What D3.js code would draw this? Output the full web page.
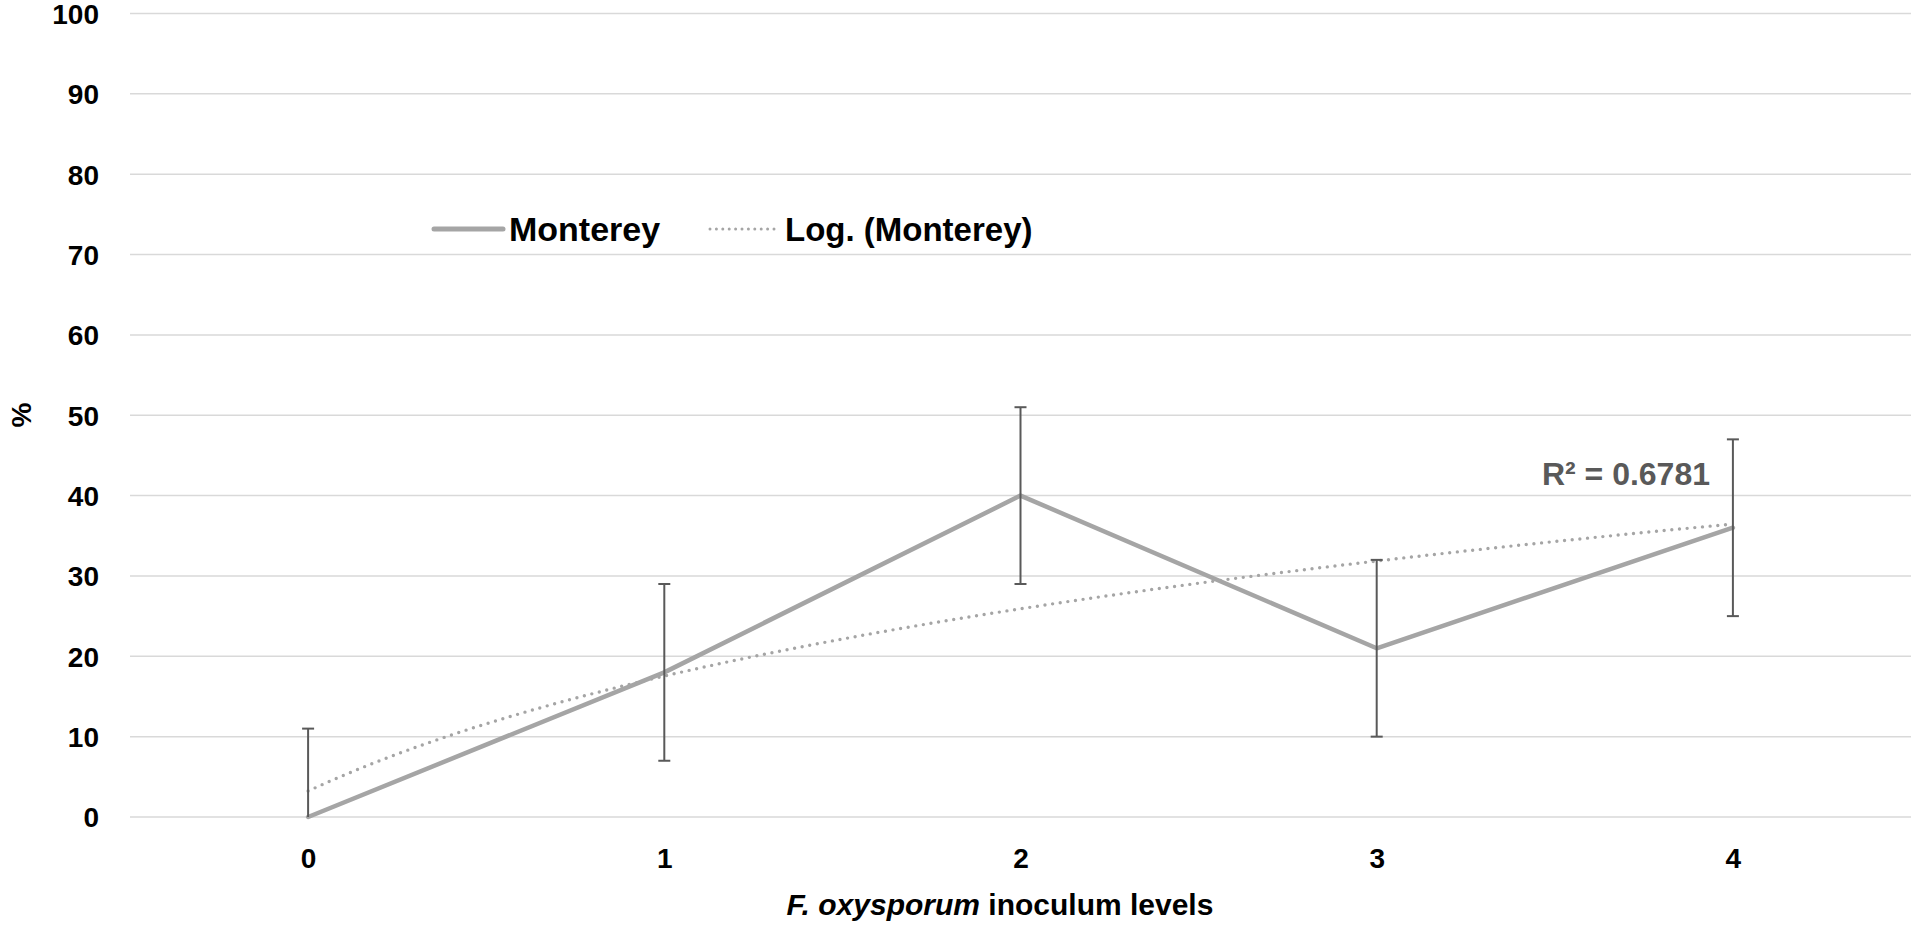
<!DOCTYPE html>
<html>
<head>
<meta charset="utf-8">
<script src="https://cdn.jsdelivr.net/npm/d3@7"></script>
<style>
  html, body { margin: 0; padding: 0; background: #fff; }
  svg { display: block; font-family: "Liberation Sans", Arial, sans-serif; font-weight: bold; }
</style>
</head>
<body>
<svg id="chart" width="1921" height="930"></svg>
<script>
// inoculum levels on the x axis
const levels = ["0", "1", "2", "3", "4"];
// Monterey mean %
const monterey = [0, 18, 40, 21, 36];
// error bar half-width (+/-)
const montereyErr = [11, 11, 11, 11, 11];
const yTicks = [0, 10, 20, 30, 40, 50, 60, 70, 80, 90, 100];

const width = 1921, height = 930;
const margin = { top: 13.5, right: 10, bottom: 113, left: 130 };

const svg = d3.select("#chart");

const x = d3.scalePoint()
  .domain(levels)
  .range([margin.left, width - margin.right])
  .padding(0.5);

// index -> position, for the fitted curve
const xi = d3.scaleLinear()
  .domain([0, levels.length - 1])
  .range([x(levels[0]), x(levels[levels.length - 1])]);

const y = d3.scaleLinear()
  .domain([0, 100])
  .range([height - margin.bottom, margin.top]);

// gridlines
svg.append("g")
  .selectAll("line")
  .data(yTicks)
  .join("line")
  .attr("x1", margin.left)
  .attr("x2", width - margin.right)
  .attr("y1", d => y(d))
  .attr("y2", d => y(d))
  .attr("stroke", "#d9d9d9")
  .attr("stroke-width", 1.5);

// y axis labels
const yAxis = g => g
  .attr("transform", `translate(${margin.left - 31},0)`)
  .call(d3.axisLeft(y).tickValues(yTicks).tickSize(0).tickPadding(0))
  .call(g => g.select(".domain").remove())
  .call(g => g.selectAll("text")
    .attr("font-family", "Liberation Sans, Arial, sans-serif")
    .attr("font-weight", "bold")
    .attr("font-size", 28)
    .attr("dy", "0.35em")
    .attr("fill", "#000"));
svg.append("g").call(yAxis);

// x axis labels
const xAxis = g => g
  .attr("transform", `translate(0,${y(0) + 31})`)
  .call(d3.axisBottom(x).tickSize(0).tickPadding(0))
  .call(g => g.select(".domain").remove())
  .call(g => g.selectAll("text")
    .attr("font-family", "Liberation Sans, Arial, sans-serif")
    .attr("font-weight", "bold")
    .attr("font-size", 28)
    .attr("fill", "#000"));
svg.append("g").call(xAxis);

// axis titles
const xTitle = svg.append("text")
  .attr("x", 1000)
  .attr("y", 915)
  .attr("text-anchor", "middle")
  .attr("font-size", 30)
  .attr("fill", "#000");
xTitle.append("tspan").attr("font-style", "italic").text("F. oxysporum");
xTitle.append("tspan").text(" inoculum levels");

svg.append("text")
  .attr("transform", "translate(31,415) rotate(-90)")
  .attr("text-anchor", "middle")
  .attr("font-size", 28)
  .attr("fill", "#000")
  .text("%");

// log trendline: least squares fit of y = a ln(n) + b, n = 1..5 (Excel style)
const lx = monterey.map((_, i) => Math.log(i + 1));
const mx = d3.mean(lx), my = d3.mean(monterey);
const sxy = d3.sum(lx, (v, i) => (v - mx) * (monterey[i] - my));
const sxx = d3.sum(lx, v => (v - mx) * (v - mx));
const syy = d3.sum(monterey, v => (v - my) * (v - my));
const a = sxy / sxx, b = my - a * mx;
const r2 = (a * sxy) / syy;

const fitSteps = d3.range(0, levels.length - 1 + 1e-9, 0.02);
svg.append("path")
  .datum(fitSteps)
  .attr("fill", "none")
  .attr("stroke", "#a5a5a5")
  .attr("stroke-width", 3.4)
  .attr("stroke-linecap", "round")
  .attr("stroke-dasharray", "0 7.7")
  .attr("d", d3.line().x(t => xi(t)).y(t => y(a * Math.log(t + 1) + b)));

// Monterey line
svg.append("path")
  .datum(monterey)
  .attr("fill", "none")
  .attr("stroke", "#a5a5a5")
  .attr("stroke-width", 4.5)
  .attr("stroke-linejoin", "round")
  .attr("stroke-linecap", "round")
  .attr("d", d3.line().x((d, i) => x(levels[i])).y(d => y(d)));

// error bars
const eb = svg.append("g")
  .attr("stroke", "#595959")
  .attr("stroke-width", 2)
  .selectAll("g")
  .data(monterey.map((v, i) => ({ v, e: montereyErr[i], c: levels[i] })))
  .join("g");
eb.append("line")
  .attr("x1", d => x(d.c)).attr("x2", d => x(d.c))
  .attr("y1", d => y(Math.max(0, d.v - d.e)))
  .attr("y2", d => y(d.v + d.e));
eb.append("line")
  .attr("x1", d => x(d.c) - 6).attr("x2", d => x(d.c) + 6)
  .attr("y1", d => y(d.v + d.e)).attr("y2", d => y(d.v + d.e));
eb.filter(d => d.v - d.e >= 0).append("line")
  .attr("x1", d => x(d.c) - 6).attr("x2", d => x(d.c) + 6)
  .attr("y1", d => y(d.v - d.e)).attr("y2", d => y(d.v - d.e));

// R squared label
svg.append("text")
  .attr("x", 1710)
  .attr("y", 485)
  .attr("text-anchor", "end")
  .attr("font-size", 32)
  .attr("fill", "#595959")
  .text(`R² = ${r2.toFixed(4)}`);

// legend
const legend = svg.append("g");
legend.append("line")
  .attr("x1", 434).attr("x2", 503).attr("y1", 229).attr("y2", 229)
  .attr("stroke", "#a5a5a5").attr("stroke-width", 5).attr("stroke-linecap", "round");
legend.append("text")
  .attr("x", 509).attr("y", 241)
  .attr("font-size", 34).attr("fill", "#000")
  .text("Monterey");
legend.append("line")
  .attr("x1", 710).attr("x2", 780).attr("y1", 229).attr("y2", 229)
  .attr("stroke", "#a5a5a5").attr("stroke-width", 3).attr("stroke-linecap", "round")
  .attr("stroke-dasharray", "0 6.4");
legend.append("text")
  .attr("x", 785).attr("y", 241)
  .attr("font-size", 33).attr("fill", "#000")
  .text("Log. (Monterey)");
</script>
</body>
</html>
